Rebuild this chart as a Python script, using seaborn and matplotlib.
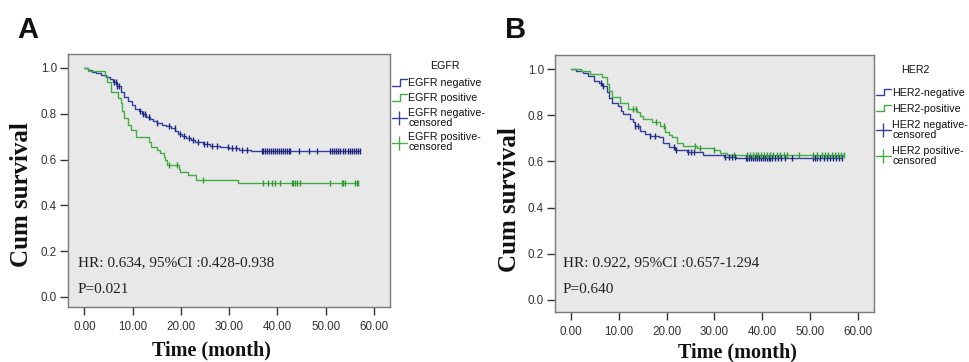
import numpy as np
import pandas as pd
import matplotlib
matplotlib.use("Agg")
import matplotlib.pyplot as plt
from matplotlib.lines import Line2D
from matplotlib.legend_handler import HandlerBase
import seaborn as sns

# ---------------- data ----------------
# Panel A: EGFR
egfr_neg_t = [0.8, 1.5, 2.5, 3.5, 4.5, 5.3, 6.0, 6.8, 7.5, 8.2, 9.0, 9.8, 10.5, 11.3, 12.0, 12.8,
              13.5, 14.3, 15.0, 16.0, 17.0, 18.0, 18.8, 19.5, 20.3, 21.0, 22.0, 23.0, 24.5, 26.0,
              28.0, 30.0, 32.0, 34.5]
egfr_neg_s = [0.99, 0.984, 0.978, 0.97, 0.962, 0.952, 0.94, 0.92, 0.895, 0.872, 0.855, 0.838, 0.822,
              0.81, 0.797, 0.785, 0.776, 0.768, 0.76, 0.752, 0.745, 0.738, 0.726, 0.712, 0.702, 0.695,
              0.685, 0.676, 0.668, 0.661, 0.655, 0.649, 0.643, 0.637]
egfr_neg_cens = [6.1, 6.5, 6.8, 7.2, 11.6, 12.2, 12.6, 13.3, 15.0, 17.6, 18.7, 19.9, 20.6, 21.6, 22.6,
                 23.6, 24.7, 25.4, 26.4, 27.4, 29.8, 30.5, 31.5, 32.6, 33.6, 36.7, 37.1, 37.5, 37.9,
                 38.3, 38.7, 39.1, 39.5, 39.9, 40.3, 40.7, 41.1, 41.5, 41.9, 42.3, 42.6, 44.4, 46.5,
                 48.2, 50.9, 51.3, 51.7, 52.1, 52.5, 53.0, 53.5, 54.0, 54.5, 55.0, 55.4, 55.8, 56.2,
                 56.6, 57.0]
egfr_pos_t = [0.8, 4.2, 4.6, 5.6, 7.0, 7.5, 7.9, 8.3, 9.0, 9.6, 10.6, 13.3, 13.8, 15.0, 15.7, 16.4,
              16.8, 17.2, 19.6, 19.9, 21.5, 23.2, 31.9]
egfr_pos_s = [0.988, 0.965, 0.94, 0.897, 0.87, 0.845, 0.81, 0.78, 0.75, 0.73, 0.70, 0.675, 0.656,
              0.64, 0.627, 0.612, 0.598, 0.576, 0.56, 0.547, 0.533, 0.511, 0.496]
egfr_pos_cens = [17.5, 19.2, 24.5, 37.1, 38.1, 38.8, 39.5, 40.5, 43.0, 43.3, 43.6, 44.0, 44.7, 50.9,
                 53.3, 53.6, 54.0, 56.1, 56.4, 56.7]

# Panel B: HER2
her2_neg_t = [1.0, 2.6, 3.5, 4.7, 5.8, 6.4, 7.5, 8.0, 8.5, 9.9, 10.5, 10.9, 12.3, 13.0, 13.4, 14.4,
              15.5, 16.5, 18.3, 19.3, 20.4, 21.8, 24.2, 27.7, 31.9, 34.5]
her2_neg_s = [0.993, 0.985, 0.97, 0.949, 0.938, 0.928, 0.899, 0.875, 0.855, 0.841, 0.82, 0.805, 0.784,
              0.77, 0.755, 0.733, 0.72, 0.711, 0.704, 0.682, 0.661, 0.649, 0.639, 0.629, 0.620, 0.615]
her2_neg_cens = [6.2, 6.6, 13.4, 14.0, 16.5, 17.5, 21.5, 22.0, 24.5, 25.0, 25.8, 32.3, 33.0, 33.6,
                 34.2, 36.5, 36.9, 37.3, 37.7, 38.1, 38.5, 38.9, 39.3, 39.7, 40.1, 40.5, 40.9, 41.3,
                 41.7, 42.1, 42.6, 43.2, 44.0, 44.8, 46.2, 50.6, 51.0, 51.4, 52.0, 53.0, 53.6, 54.2,
                 54.8, 55.4, 56.0, 56.7]
her2_pos_t = [2.0, 4.0, 6.4, 7.5, 8.0, 8.5, 10.2, 12.0, 13.7, 14.5, 15.1, 16.9, 18.6, 19.7, 20.5, 21.1,
              22.1, 23.5, 26.3, 30.0, 31.2, 32.6]
her2_pos_s = [0.99, 0.978, 0.964, 0.935, 0.905, 0.877, 0.855, 0.827, 0.812, 0.798, 0.784, 0.769,
              0.755, 0.726, 0.714, 0.704, 0.682, 0.668, 0.658, 0.648, 0.635, 0.629]
her2_pos_cens = [13.0, 13.5, 17.8, 19.5, 26.0, 27.0, 30.0, 34.0, 36.8, 37.4, 38.0, 38.6, 39.2, 39.8,
                 40.4, 41.0, 41.6, 42.3, 43.0, 43.8, 44.5, 45.2, 47.7, 50.6, 51.5, 52.5, 53.2, 53.8,
                 54.5, 55.2, 55.8, 56.4, 57.0]

xticks = [0, 10, 20, 30, 40, 50, 60]
yticks = [0.0, 0.2, 0.4, 0.6, 0.8, 1.0]

BLUE = "#34409a"
BLUE_DARK = "#1c2580"
GREEN = "#45ad45"
GREEN_DARK = "#2f9a35"
BG = "#e8e8e8"
TXT = "#333333"


def surv_at(times, surv, t):
    times = np.asarray(times)
    surv = np.concatenate([[1.0], np.asarray(surv)])
    idx = np.searchsorted(times, np.asarray(t), side="right")
    return surv[idx]


def draw_curve(ax, times, surv, cens, line_col, cens_col):
    end = max(max(cens), max(times))
    x = [0.0] + list(times) + [end]
    y = [1.0] + list(surv) + [surv[-1]]
    df = pd.DataFrame({"t": x, "s": y})
    sns.lineplot(data=df, x="t", y="s", ax=ax, drawstyle="steps-post", color=line_col,
                 lw=1.0, estimator=None, sort=False, legend=False)
    cy = surv_at(times, surv, cens)
    cdf = pd.DataFrame({"t": cens, "s": cy})
    sns.scatterplot(data=cdf, x="t", y="s", ax=ax, marker="|", s=20, color=cens_col,
                    linewidth=1.0, legend=False, zorder=3)


class StepHandler(HandlerBase):
    def __init__(self, color):
        super().__init__()
        self.color = color

    def create_artists(self, legend, orig_handle, xdescent, ydescent, width, height, fontsize, trans):
        x0 = -xdescent
        lo = -ydescent + height * 0.2
        hi = -ydescent + height * 0.85
        xm = x0 + width * 0.55
        ln = Line2D([x0, xm, xm, x0 + width], [lo, lo, hi, hi], color=self.color, lw=1.0,
                    transform=trans)
        return [ln]


class CensHandler(HandlerBase):
    def __init__(self, color):
        super().__init__()
        self.color = color

    def create_artists(self, legend, orig_handle, xdescent, ydescent, width, height, fontsize, trans):
        x0 = -xdescent
        yc = -ydescent + height / 2
        ln = Line2D([x0, x0 + width], [yc, yc], color=self.color, lw=1.0, transform=trans)
        mk = Line2D([x0 + width / 2], [yc], marker="|", markersize=10, mew=1.0,
                    color=self.color, transform=trans)
        return [ln, mk]


sns.set_theme(style="white")
plt.rcParams["font.family"] = ["Liberation Sans", "DejaVu Sans"]

W, H = 969, 362
fig = plt.figure(figsize=(W / 100, H / 100), dpi=100)


def px_axes(l, t, r, b):
    return fig.add_axes([l / W, 1 - b / H, (r - l) / W, (b - t) / H])


def style_axes(ax, xlim, ylim):
    ax.set_facecolor(BG)
    ax.set_xlim(*xlim)
    ax.set_ylim(*ylim)
    ax.set_xticks(xticks)
    ax.set_yticks(yticks)
    ax.set_xticklabels([f"{v:.2f}" for v in xticks])
    ax.set_yticklabels([f"{v:.1f}" for v in yticks])
    for sp in ax.spines.values():
        sp.set_color("#7a7a7a")
        sp.set_linewidth(1.0)
    ax.tick_params(axis="both", direction="out", length=6, width=1.0, color="#333333",
                   labelsize=8.4, labelcolor=TXT, pad=2, left=True, bottom=True)
    ax.tick_params(axis="x", pad=4)
    ax.set_xlabel("")
    ax.set_ylabel("")


def add_legend(ax, title, title_xy, labels, anchor, spacing):
    handles = [Line2D([], []), Line2D([], [], ls="--"), Line2D([], [], ls=":"),
               Line2D([], [], ls="-.")]
    hmap = {handles[0]: StepHandler(BLUE), handles[1]: StepHandler(GREEN),
            handles[2]: CensHandler(BLUE), handles[3]: CensHandler(GREEN)}
    leg = ax.legend(handles, labels, handler_map=hmap, loc="upper left",
                    bbox_to_anchor=anchor, frameon=False, fontsize=7.7,
                    handlelength=1.45, handleheight=1.0, handletextpad=0.1, labelspacing=spacing,
                    borderaxespad=0, borderpad=0)
    for t in leg.get_texts():
        t.set_linespacing(1.0)
        t.set_color("#111111")
    fig.text(title_xy[0] / W, 1 - title_xy[1] / H, title, fontsize=7.7, color="#111111",
             ha="center", va="center")
    return leg


serif = ["Liberation Serif", "DejaVu Serif"]

# ---- Panel A ----
axA = px_axes(68, 54, 390, 307)
draw_curve(axA, egfr_neg_t, egfr_neg_s, egfr_neg_cens, BLUE, BLUE_DARK)
draw_curve(axA, egfr_pos_t, egfr_pos_s, egfr_pos_cens, GREEN, GREEN_DARK)
style_axes(axA, (-3.38, 63.3), (-0.044, 1.061))
axA.text(0.03, 0.162, "HR: 0.634, 95%CI :0.428-0.938", transform=axA.transAxes,
         family=serif, fontsize=11, color="#222222", va="baseline")
axA.text(0.03, 0.056, "P=0.021", transform=axA.transAxes,
         family=serif, fontsize=11, color="#222222", va="baseline")
add_legend(axA, "EGFR", (445, 66), ["EGFR negative", "EGFR positive", "EGFR negative-\ncensored",
                                    "EGFR positive-\ncensored"], (1.005, 0.905), 0.42)

# ---- Panel B ----
axB = px_axes(555, 55, 874, 312)
draw_curve(axB, her2_neg_t, her2_neg_s, her2_neg_cens, BLUE, BLUE_DARK)
draw_curve(axB, her2_pos_t, her2_pos_s, her2_pos_cens, GREEN, GREEN_DARK)
style_axes(axB, (-3.35, 63.35), (-0.052, 1.061))
axB.text(0.025, 0.178, "HR: 0.922, 95%CI :0.657-1.294", transform=axB.transAxes,
         family=serif, fontsize=11, color="#222222", va="baseline")
axB.text(0.025, 0.073, "P=0.640", transform=axB.transAxes,
         family=serif, fontsize=11, color="#222222", va="baseline")
add_legend(axB, "HER2", (915, 70), ["HER2-negative", "HER2-positive", "HER2 negative-\ncensored",
                                    "HER2 positive-\ncensored"], (1.005, 0.875), 0.55)

# ---- labels ----
fig.text(28 / W, 1 - 30 / H, "A", fontsize=21, fontweight="bold", ha="center", va="center",
         color="#111111")
fig.text(516 / W, 1 - 30 / H, "B", fontsize=21, fontweight="bold", ha="center", va="center",
         color="#111111")
fig.text(22 / W, 1 - 195 / H, "Cum survival", rotation=90, family=serif, fontweight="bold",
         fontsize=18, ha="center", va="center", color="#111111")
fig.text(510 / W, 1 - 200 / H, "Cum survival", rotation=90, family=serif, fontweight="bold",
         fontsize=18, ha="center", va="center", color="#111111")
fig.text(211 / W, 1 - 350 / H, "Time (month)", family=serif, fontweight="bold",
         fontsize=14.5, ha="center", va="center", color="#111111")
fig.text(737 / W, 1 - 352 / H, "Time (month)", family=serif, fontweight="bold",
         fontsize=14.5, ha="center", va="center", color="#111111")

fig.savefig("out.png", dpi=100, facecolor="white")
